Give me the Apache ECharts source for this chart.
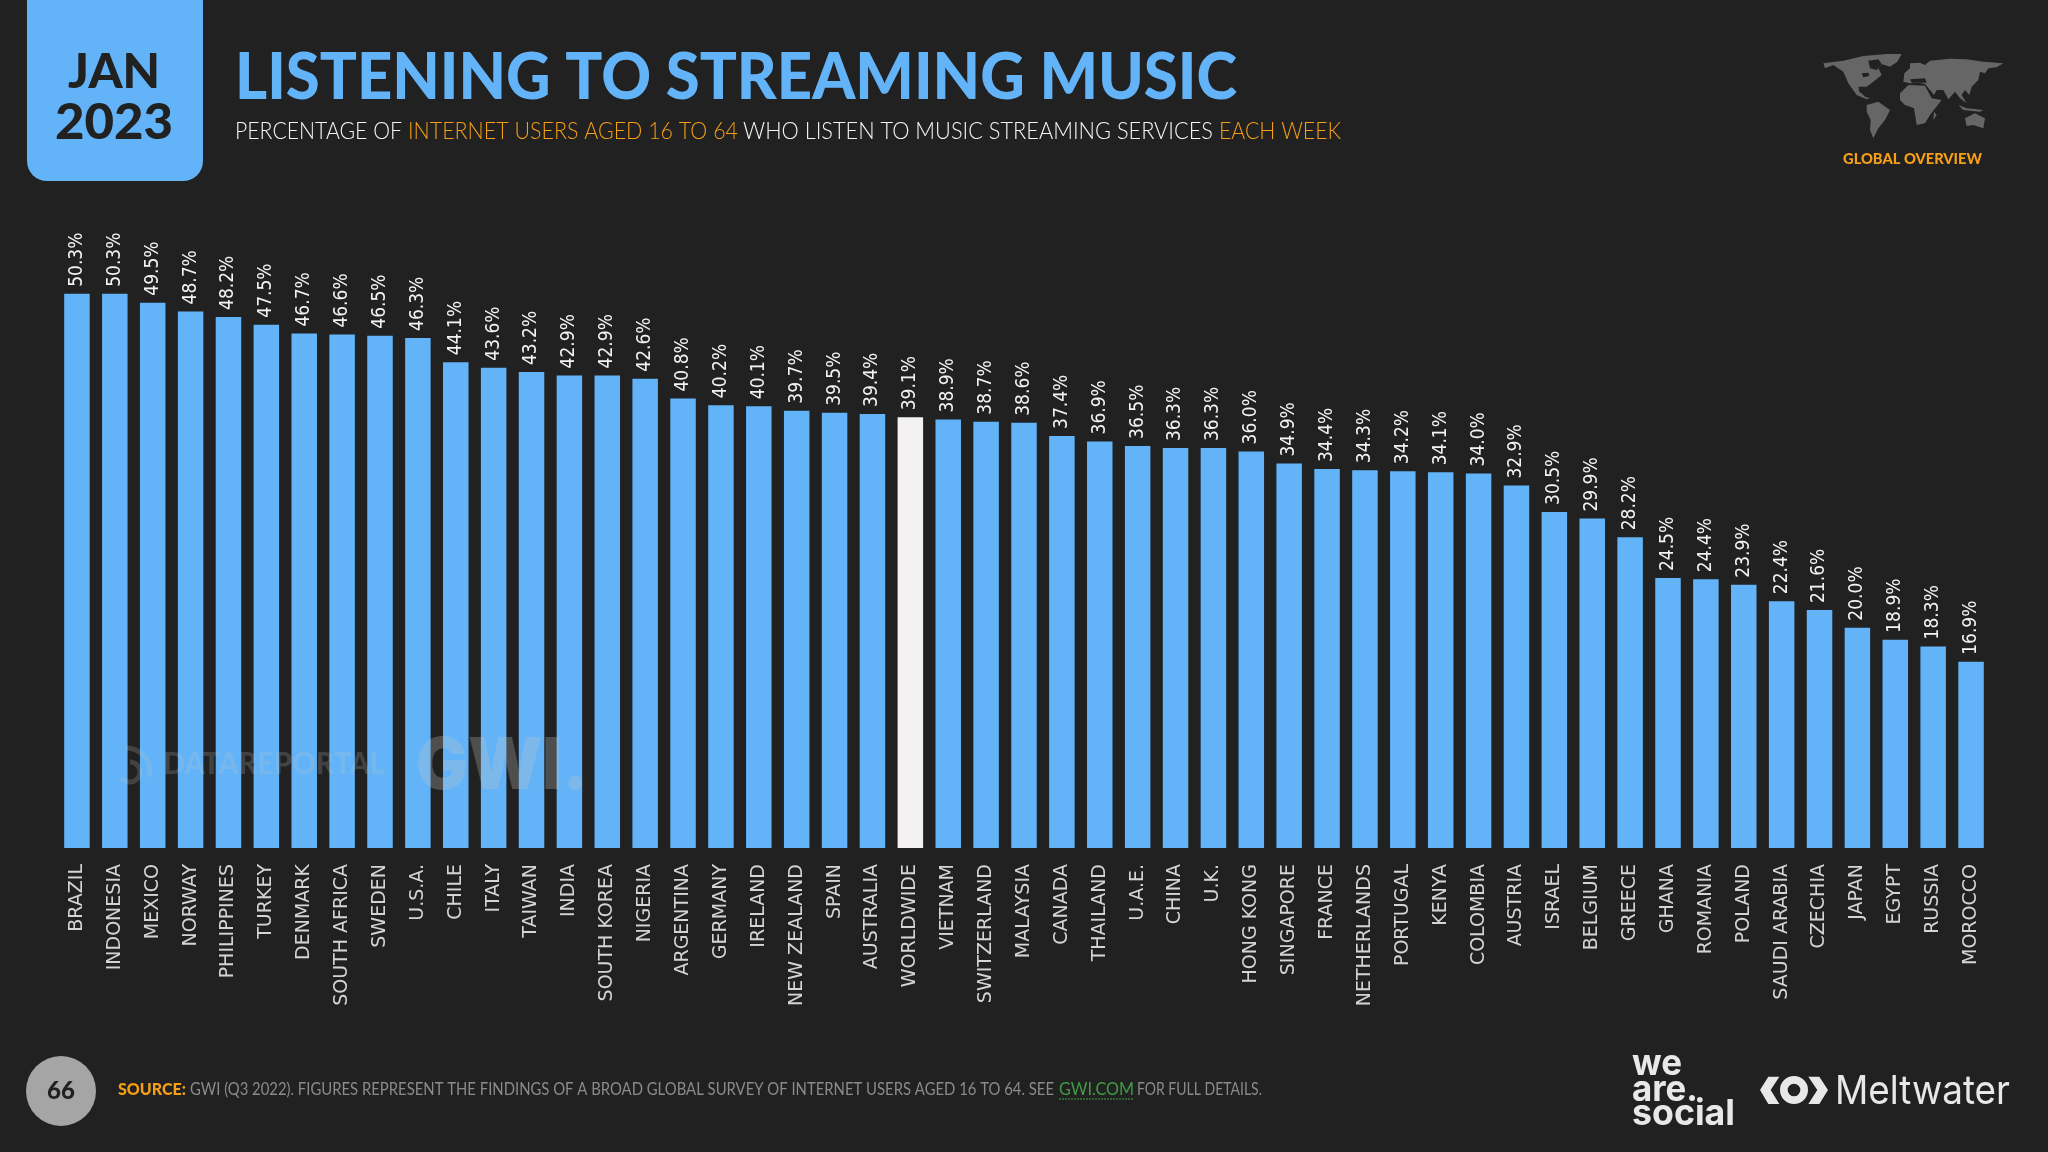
<!DOCTYPE html>
<html>
<head>
<meta charset="utf-8">
<title>Listening to streaming music</title>
<script src="https://cdn.jsdelivr.net/npm/echarts@6/dist/echarts.min.js"></script>
<style>
html,body{margin:0;padding:0;background:#212122;}
#main{width:2048px;height:1152px;}
</style>
</head>
<body>
<div id="main"></div>
<script>
var countries = ['BRAZIL','INDONESIA','MEXICO','NORWAY','PHILIPPINES','TURKEY','DENMARK','SOUTH AFRICA','SWEDEN','U.S.A.',
	'CHILE','ITALY','TAIWAN','INDIA','SOUTH KOREA','NIGERIA','ARGENTINA','GERMANY','IRELAND','NEW ZEALAND',
	'SPAIN','AUSTRALIA','WORLDWIDE','VIETNAM','SWITZERLAND','MALAYSIA','CANADA','THAILAND','U.A.E.','CHINA',
	'U.K.','HONG KONG','SINGAPORE','FRANCE','NETHERLANDS','PORTUGAL','KENYA','COLOMBIA','AUSTRIA','ISRAEL',
	'BELGIUM','GREECE','GHANA','ROMANIA','POLAND','SAUDI ARABIA','CZECHIA','JAPAN','EGYPT','RUSSIA','MOROCCO'];
var shares = [50.3,50.3,49.5,48.7,48.2,47.5,46.7,46.6,46.5,46.3,
	44.1,43.6,43.2,42.9,42.9,42.6,40.8,40.2,40.1,39.7,
	39.5,39.4,39.1,38.9,38.7,38.6,37.4,36.9,36.5,36.3,
	36.3,36.0,34.9,34.4,34.3,34.2,34.1,34.0,32.9,30.5,
	29.9,28.2,24.5,24.4,23.9,22.4,21.6,20.0,18.9,18.3,16.9];
var highlight = 'WORLDWIDE';

var BG = '#212122', BLUE = '#62b3f8', ORANGE = '#f59e17', GREY_TEXT = '#8b8b8b', LOGO = '#e8e8e8';
var WATERMARK = 'rgba(200,200,200,0.27)';

// rough outlines for the little world map, in zoomed map units
var mapShapes = [
	[[40,70],[100,62],[160,48],[230,42],[275,42],[262,65],[240,80],[215,72],[205,85],[215,105],[190,125],[170,140],[145,150],[165,170],[180,175],[170,178],[140,165],[115,130],[100,95],[70,75],[45,85]],
	[[170,195],[205,185],[240,210],[225,240],[205,265],[190,295],[180,270],[182,240],[170,215]],
	[[270,160],[295,135],[345,137],[365,175],[395,180],[360,225],[345,250],[320,255],[312,205],[285,195],[270,180]],
	[[280,125],[283,100],[300,85],[300,70],[330,68],[345,75],[360,62],[420,56],[470,58],[520,65],[580,70],[560,82],[535,85],[525,100],[510,95],[505,120],[485,140],[478,165],[465,150],[455,165],[470,190],[450,175],[435,155],[415,178],[400,150],[380,150],[372,165],[345,132],[325,128],[300,130]],
	[[465,235],[495,220],[525,235],[520,265],[490,255],[470,258]],
	[[445,195],[470,205],[520,210],[510,215],[460,210]],
	[[372,215],[380,225],[370,240]]
];
// seas cut back out of the land
var mapSeas = [
	[[175,62],[205,58],[215,72],[200,90],[180,85]],
	[[155,100],[175,98],[178,108],[160,112]],
	[[145,140],[172,140],[170,158],[150,158]],
	[[300,118],[345,115],[350,128],[305,128]]
];

var measure = document.createElement('canvas').getContext('2d');
// scaleX that makes a string fill the width it has in the picture
function fit(str, font, width) {
	measure.font = font;
	return width / measure.measureText(str).width;
}

function label(x, y, str, font, fill, width, align) {
	return {
		type: 'text', x: x, y: y, scaleX: width ? fit(str, font, width) : 1, silent: true,
		style: { text: str, font: font, fill: fill, align: align || 'left', verticalAlign: 'middle' }
	};
}

function watermark(x, y, str, font, width, fill) {
	var el = label(x, y, str, font, fill || WATERMARK, width);
	el.z = 10;
	return el;
}

var SUB_FONT = '300 24px Lato', SRC_FONT = '17px Lato';

var graphics = [
	{ type: 'rect', silent: true, shape: { x: 27, y: -20, width: 176, height: 201, r: 20 }, style: { fill: BLUE } },
	label(114, 73, 'JAN', '900 48px Lato', BG, 92, 'center'),
	label(114, 123, '2023', '900 50px Lato', BG, 118, 'center'),
	label(235, 78, 'LISTENING TO STREAMING MUSIC', '900 64px Lato', BLUE, 1002),

	label(235, 131, 'PERCENTAGE OF', SUB_FONT, '#f5f5f5', 167),
	label(408, 131, 'INTERNET USERS AGED 16 TO 64', SUB_FONT, ORANGE, 330),
	label(743, 131, 'WHO LISTEN TO MUSIC STREAMING SERVICES', SUB_FONT, '#f5f5f5', 470),
	label(1219, 131, 'EACH WEEK', SUB_FONT, ORANGE, 122),
	label(1843, 159, 'GLOBAL OVERVIEW', '900 15px Lato', ORANGE, 139),

	// page number and source line
	{ type: 'circle', silent: true, shape: { cx: 61, cy: 1091, r: 35 }, style: { fill: '#a5a5a5' } },
	label(61, 1091, '66', '900 24px Lato', BG, 0, 'center'),
	label(118, 1090, 'SOURCE:', '900 17px Lato', ORANGE, 68),
	label(190, 1090, 'GWI (Q3 2022). FIGURES REPRESENT THE FINDINGS OF A BROAD GLOBAL SURVEY OF INTERNET USERS AGED 16 TO 64. SEE', SRC_FONT, GREY_TEXT, 864),
	label(1059, 1090, 'GWI.COM', SRC_FONT, '#3f9e45', 75),
	label(1137, 1090, 'FOR FULL DETAILS.', SRC_FONT, GREY_TEXT, 125),
	{ type: 'line', silent: true, shape: { x1: 1059, y1: 1099, x2: 1134, y2: 1099 }, style: { stroke: '#3f9e45', lineWidth: 1, lineDash: [2, 1] } },

	// logos
	label(1632, 1064, 'we', 'bold 36px Inter', LOGO, 50),
	label(1632, 1090, 'are.', 'bold 36px Inter', LOGO, 66),
	label(1632, 1114, 'social', 'bold 36px Inter', LOGO, 103),
	label(1835, 1092, 'Meltwater', '40px Inter', LOGO, 175),
	{
		type: 'group', x: 1620, y: 1040, scaleX: 1 / 3, scaleY: 1 / 3, silent: true,
		children: [
			{ type: 'polygon', shape: { points: [[445,110],[478,110],[452,150],[478,192],[445,192],[420,150]] }, style: { fill: LOGO } },
			{ type: 'polygon', shape: { points: [[565,110],[598,110],[624,150],[598,192],[565,192],[592,150]] }, style: { fill: LOGO } },
			{ type: 'ring', shape: { cx: 522, cy: 150, r: 42, r0: 19 }, style: { fill: LOGO } }
		]
	},

	// world map
	{
		type: 'group', x: 1810, y: 40, scaleX: 1 / 3, scaleY: 1 / 3, silent: true,
		children: mapShapes.map(function(pts) {
			return { type: 'polygon', shape: { points: pts }, style: { fill: '#666666' } };
		}).concat(mapSeas.map(function(pts) {
			return { type: 'polygon', shape: { points: pts }, style: { fill: BG } };
		}))
	},

	// watermark lies over the bars, faintly
	watermark(163, 764, 'DATAREPORTAL', '900 31px Lato', 222, 'rgba(200,200,200,0.2)'),
	watermark(416, 767, 'GWI.', '900 72px Inter', 172),
	{ type: 'arc', z: 10, silent: true, shape: { cx: 130, cy: 772, r: 10, startAngle: -Math.PI / 2, endAngle: Math.PI / 2 + 1 }, style: { stroke: 'rgba(200,200,200,0.2)', fill: 'none', lineWidth: 5 } },
	{ type: 'arc', z: 10, silent: true, shape: { cx: 126, cy: 772, r: 24, startAngle: -Math.PI / 2, endAngle: 0.2 }, style: { stroke: 'rgba(200,200,200,0.2)', fill: 'none', lineWidth: 5 } }
];

var myChart = echarts.init(document.getElementById('main'));
var option = {
	backgroundColor: BG,
	animation: false,
	graphic: { elements: graphics },
	grid: { left: 58, width: 1932, top: 187, bottom: 304 },
	xAxis: {
		type: 'category',
		data: countries,
		axisLine: { show: false },
		axisTick: { show: false },
		axisLabel: {
			interval: 0,
			rotate: 90,
			margin: 16,
			color: '#d4d4d4',
			fontFamily: 'DejaVu Sans',
			fontSize: 19
		}
	},
	yAxis: { type: 'value', min: 0, max: 60, show: false },
	series: [{
		type: 'bar',
		barWidth: 25.5,
		data: shares.map(function(v, i) {
			if (countries[i] === highlight) {
				return { value: v, itemStyle: { color: '#f3f1f1' } };
			}
			return v;
		}),
		itemStyle: { color: BLUE },
		label: {
			show: true,
			position: 'top',
			rotate: 90,
			align: 'left',
			verticalAlign: 'middle',
			distance: 7,
			color: '#f2f2f2',
			fontFamily: '"DejaVu Sans Condensed", "DejaVu Sans"',
			fontSize: 19,
			formatter: function(p) {
				return p.value.toFixed(1) + '%';
			}
		}
	}]
};
myChart.setOption(option);
</script>
</body>
</html>
